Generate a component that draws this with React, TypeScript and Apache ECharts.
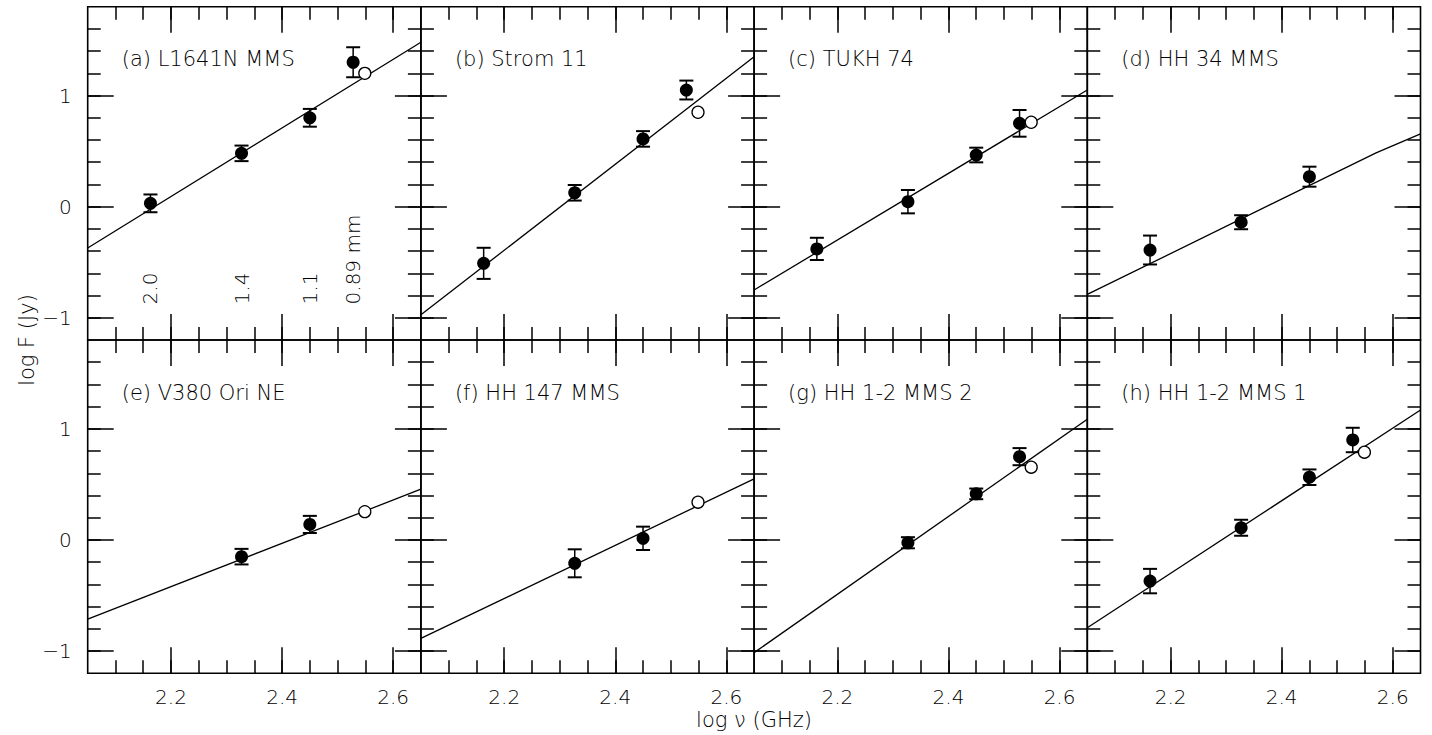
import React, { useEffect, useRef } from 'react';
import * as echarts from 'echarts';

const FONT = '"DejaVu Sans", "Liberation Sans", sans-serif';
const FONT_WEIGHT = 200;

const X_MIN = 2.05;
const X_MAX = 2.65;
const Y_MIN = -1.2;
const Y_MAX = 1.8;
const xMajor = [2.2, 2.4, 2.6];
const xMinor = [2.1, 2.15, 2.2, 2.25, 2.3, 2.35, 2.4, 2.45, 2.5, 2.55, 2.6];
const yMajor = [-1, 0, 1];
const yMinor = [-1, -0.8, -0.6, -0.4, -0.2, 0, 0.2, 0.4, 0.6, 0.8, 1, 1.2, 1.4, 1.6];

const panelTitles = [
  '(a) L1641N MMS',
  '(b) Strom 11',
  '(c) TUKH 74',
  '(d) HH 34 MMS',
  '(e) V380 Ori NE',
  '(f) HH 147 MMS',
  '(g) HH 1-2 MMS 2',
  '(h) HH 1-2 MMS 1',
];

// detections: [log nu, log F, error]
const ptsA = [[2.163, 0.03, 0.08], [2.327, 0.48, 0.07], [2.45, 0.8, 0.08], [2.528, 1.3, 0.135]];
const ptsB = [[2.163, -0.51, 0.14], [2.327, 0.125, 0.07], [2.45, 0.61, 0.07], [2.528, 1.05, 0.085]];
const ptsC = [[2.163, -0.38, 0.1], [2.327, 0.045, 0.105], [2.45, 0.465, 0.066], [2.528, 0.75, 0.12]];
const ptsD = [[2.163, -0.39, 0.13], [2.327, -0.14, 0.063], [2.45, 0.27, 0.09]];
const ptsE = [[2.327, -0.15, 0.07], [2.45, 0.14, 0.077]];
const ptsF = [[2.327, -0.21, 0.126], [2.45, 0.015, 0.105]];
const ptsG = [[2.327, -0.025, 0.05], [2.45, 0.415, 0.048], [2.528, 0.75, 0.077]];
const ptsH = [[2.163, -0.37, 0.11], [2.327, 0.11, 0.072], [2.45, 0.565, 0.07], [2.528, 0.9, 0.11]];

// open circles: [log nu, log F]
const openA = [[2.549, 1.2]];
const openB = [[2.549, 0.85]];
const openC = [[2.549, 0.76]];
const openD: number[][] = [];
const openE = [[2.549, 0.255]];
const openF = [[2.549, 0.34]];
const openG = [[2.549, 0.655]];
const openH = [[2.549, 0.79]];

// fitted lines
const fitA = [[2.05, -0.372], [2.65, 1.48]];
const fitB = [[2.05, -0.973], [2.65, 1.349]];
const fitC = [[2.05, -0.75], [2.65, 1.05]];
const fitD = [[2.05, -0.79], [2.57, 0.485], [2.65, 0.655]];
const fitE = [[2.05, -0.712], [2.65, 0.457]];
const fitF = [[2.05, -0.886], [2.65, 0.55]];
const fitG = [[2.05, -1.014], [2.65, 1.087]];
const fitH = [[2.05, -0.79], [2.65, 1.17]];

const allPts = [ptsA, ptsB, ptsC, ptsD, ptsE, ptsF, ptsG, ptsH];
const allOpen = [openA, openB, openC, openD, openE, openF, openG, openH];
const allFits = [fitA, fitB, fitC, fitD, fitE, fitF, fitG, fitH];

// wavelength annotations in panel (a)
const waveX = [2.163, 2.327, 2.45, 2.528];
const waveText = ['2.0', '1.4', '1.1', '0.89 mm'];
const waveY = -0.88;

const GRID_LEFT = 87.7;
const GRID_TOP = 6.7;
const CELL_W = 333.2;
const CELL_H = 333.3;

function fmtY(v: number) {
  return v < 0 ? '\u2212' + Math.abs(v) : String(v);
}

export default function App() {
  const ref = useRef<HTMLDivElement>(null);
  useEffect(() => {
    if (!ref.current) return;
    const chart = echarts.init(ref.current, null, { renderer: 'svg' });

    const grids: any[] = [];
    const xAxes: any[] = [];
    const yAxes: any[] = [];
    const series: any[] = [];
    const graphics: any[] = [];

    const tickStyle = { color: '#000', width: 1.5 };
    const labelStyle = { color: '#000', fontSize: 20, fontFamily: FONT, fontWeight: FONT_WEIGHT };

    for (let g = 0; g < 8; g++) {
      const row = Math.floor(g / 4);
      const col = g % 4;
      const left = GRID_LEFT + col * CELL_W;
      const top = GRID_TOP + row * CELL_H;
      grids.push({
        left,
        top,
        width: CELL_W,
        height: CELL_H,
        show: true,
        borderColor: '#000',
        borderWidth: 1.6,
        backgroundColor: 'transparent',
        containLabel: false,
        outerBoundsMode: 'none',
      });
      const xc = {
        type: 'value',
        min: X_MIN,
        max: X_MAX,
        gridIndex: g,
        axisLine: { show: false, onZero: false },
        splitLine: { show: false },
      };
      const yc = {
        type: 'value',
        min: Y_MIN,
        max: Y_MAX,
        gridIndex: g,
        axisLine: { show: false, onZero: false },
        splitLine: { show: false },
      };
      xAxes.push({
        ...xc,
        position: 'bottom',
        axisTick: { show: true, inside: true, length: 26, customValues: xMajor, lineStyle: tickStyle },
        axisLabel: {
          show: row === 1,
          customValues: xMajor,
          formatter: (v: number) => v.toFixed(1),
          margin: 14,
          ...labelStyle,
        },
      });
      xAxes.push({
        ...xc,
        position: 'bottom',
        axisTick: { show: true, inside: true, length: 13, customValues: xMinor, lineStyle: tickStyle },
        axisLabel: { show: false },
      });
      xAxes.push({
        ...xc,
        position: 'top',
        axisTick: { show: true, inside: true, length: 26, customValues: xMajor, lineStyle: tickStyle },
        axisLabel: { show: false },
      });
      xAxes.push({
        ...xc,
        position: 'top',
        axisTick: { show: true, inside: true, length: 13, customValues: xMinor, lineStyle: tickStyle },
        axisLabel: { show: false },
      });
      yAxes.push({
        ...yc,
        position: 'left',
        axisTick: { show: true, inside: true, length: 26, customValues: yMajor, lineStyle: tickStyle },
        axisLabel: {
          show: col === 0,
          customValues: yMajor,
          formatter: fmtY,
          margin: 16,
          ...labelStyle,
        },
      });
      yAxes.push({
        ...yc,
        position: 'left',
        axisTick: { show: true, inside: true, length: 13, customValues: yMinor, lineStyle: tickStyle },
        axisLabel: { show: false },
      });
      yAxes.push({
        ...yc,
        position: 'right',
        axisTick: { show: true, inside: true, length: 26, customValues: yMajor, lineStyle: tickStyle },
        axisLabel: { show: false },
      });
      yAxes.push({
        ...yc,
        position: 'right',
        axisTick: { show: true, inside: true, length: 13, customValues: yMinor, lineStyle: tickStyle },
        axisLabel: { show: false },
      });

      const xi = g * 4;
      const yi = g * 4;

      series.push({
        type: 'line',
        xAxisIndex: xi,
        yAxisIndex: yi,
        data: allFits[g],
        symbol: 'none',
        silent: true,
        lineStyle: { color: '#000', width: 1.3, opacity: 1 },
        z: 2,
      });
      series.push({
        type: 'custom',
        xAxisIndex: xi,
        yAxisIndex: yi,
        data: allPts[g],
        encode: { x: 0, y: 1 },
        silent: true,
        z: 3,
        renderItem: (params: any, api: any) => {
          const x = api.value(0);
          const y = api.value(1);
          const e = api.value(2);
          const hi = api.coord([x, y + e]);
          const lo = api.coord([x, y - e]);
          const hw = 7;
          return {
            type: 'group',
            children: [
              { type: 'line', shape: { x1: hi[0], y1: hi[1], x2: lo[0], y2: lo[1] }, style: { stroke: '#000', lineWidth: 1.5 } },
              { type: 'line', shape: { x1: hi[0] - hw, y1: hi[1], x2: hi[0] + hw, y2: hi[1] }, style: { stroke: '#000', lineWidth: 2 } },
              { type: 'line', shape: { x1: lo[0] - hw, y1: lo[1], x2: lo[0] + hw, y2: lo[1] }, style: { stroke: '#000', lineWidth: 2 } },
            ],
          };
        },
      });
      series.push({
        type: 'scatter',
        xAxisIndex: xi,
        yAxisIndex: yi,
        data: allPts[g].map((p) => [p[0], p[1]]),
        symbol: 'circle',
        symbolSize: 13,
        itemStyle: { color: '#000', opacity: 1 },
        emphasis: { disabled: true },
        silent: true,
        z: 4,
      });
      if (allOpen[g].length) {
        series.push({
          type: 'scatter',
          xAxisIndex: xi,
          yAxisIndex: yi,
          data: allOpen[g],
          symbol: 'circle',
          symbolSize: 12,
          itemStyle: { color: '#fff', borderColor: '#000', borderWidth: 1.3, opacity: 1 },
          emphasis: { disabled: true },
          silent: true,
          z: 5,
        });
      }

      graphics.push({
        type: 'text',
        x: left + 34,
        y: top + 52.5,
        silent: true,
        style: {
          text: panelTitles[g],
          fontSize: 21,
          fontFamily: FONT,
          fontWeight: FONT_WEIGHT,
          fill: '#000',
          align: 'left',
          textAlign: 'left',
          verticalAlign: 'middle',
          textVerticalAlign: 'middle',
        },
      });
    }

    // wavelength labels (panel a)
    series.push({
      type: 'scatter',
      xAxisIndex: 0,
      yAxisIndex: 0,
      data: waveX.map((x, i) => ({ value: [x, waveY], name: waveText[i] })),
      symbol: 'circle',
      symbolSize: 1,
      itemStyle: { color: 'rgba(0,0,0,0)', opacity: 1 },
      emphasis: { disabled: true },
      silent: true,
      z: 6,
      label: {
        show: true,
        position: 'inside',
        formatter: '{b}',
        rotate: 90,
        align: 'left',
        verticalAlign: 'middle',
        color: '#000',
        opacity: 1,
        fontSize: 20,
        fontFamily: FONT,
        fontWeight: FONT_WEIGHT,
      },
    });

    graphics.push({
      type: 'text',
      x: 27,
      y: 340,
      rotation: Math.PI / 2,
      silent: true,
      style: {
        text: 'log F (Jy)',
        fontSize: 21,
        fontFamily: FONT,
        fontWeight: FONT_WEIGHT,
        fill: '#000',
        align: 'center',
        textAlign: 'center',
        verticalAlign: 'middle',
        textVerticalAlign: 'middle',
      },
    });
    graphics.push({
      type: 'text',
      x: 754,
      y: 720,
      silent: true,
      style: {
        text: 'log \u03bd (GHz)',
        fontSize: 21,
        fontFamily: FONT,
        fontWeight: FONT_WEIGHT,
        fill: '#000',
        align: 'center',
        textAlign: 'center',
        verticalAlign: 'middle',
        textVerticalAlign: 'middle',
      },
    });

    chart.setOption({
      animation: false,
      backgroundColor: '#fff',
      grid: grids,
      xAxis: xAxes,
      yAxis: yAxes,
      series,
      graphic: graphics,
    });

    return () => {
      chart.dispose();
    };
  }, []);

  return (
    <div
      ref={ref}
      style={{ position: 'absolute', left: 0, top: 0, width: 1432, height: 735 }}
    />
  );
}
